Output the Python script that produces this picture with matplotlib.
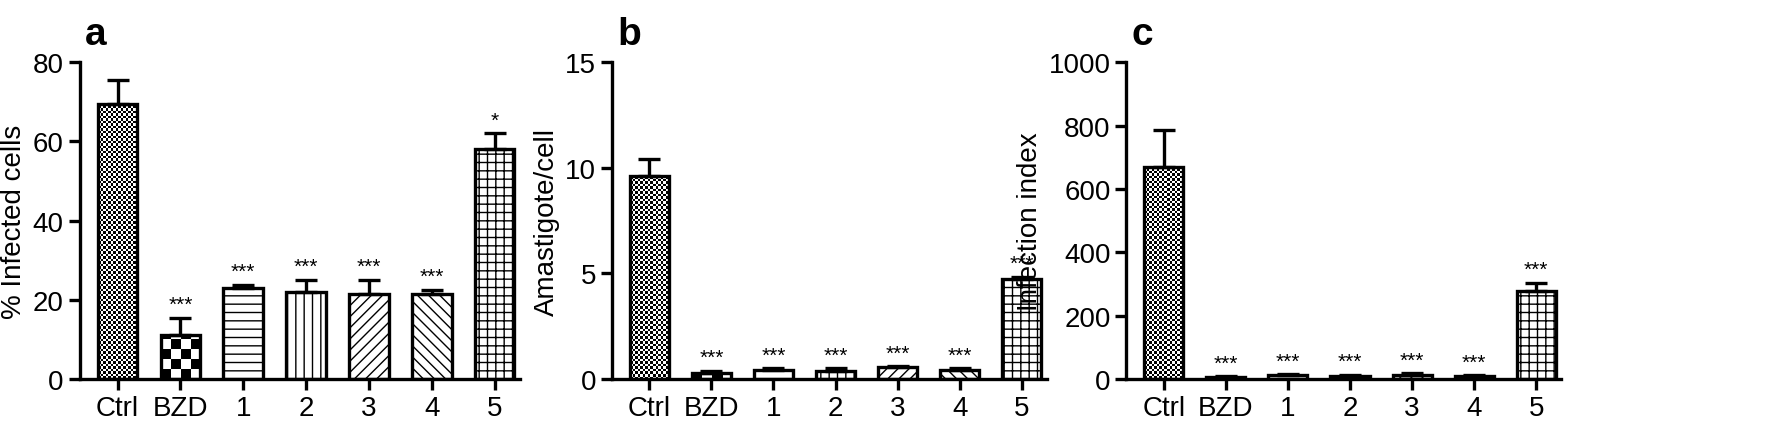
import numpy as np
import matplotlib.pyplot as plt

plt.rcParams['font.family'] = ['Liberation Sans', 'DejaVu Sans']
plt.rcParams['hatch.linewidth'] = 1.0

groups = ['Ctrl', 'BZD', '1', '2', '3', '4', '5']

pct_infected = [69.5, 11, 23, 22, 21.5, 21.5, 58]
pct_err = [6, 4.5, 0.8, 3, 3.5, 1, 4]
pct_stars = ['', '***', '***', '***', '***', '***', '*']

amast = [9.6, 0.3, 0.45, 0.4, 0.55, 0.45, 4.75]
amast_err = [0.8, 0.1, 0.05, 0.1, 0.05, 0.05, 0.1]
amast_stars = ['', '***', '***', '***', '***', '***', '***']

inf_index = [670, 5, 12, 10, 14, 10, 278]
inf_err = [115, 3, 3, 4, 4, 2, 25]
inf_stars = ['', '***', '***', '***', '***', '***', '***']

hatches = [None, None, '--', '||', '///', '\\\\\\', '++']

fig = plt.figure(figsize=(17.74, 4.27), dpi=100)

panels = [
    ('a', [0.045, 0.11, 0.248, 0.742], pct_infected, pct_err, pct_stars, 80, 20, '% Infected cells'),
    ('b', [0.345, 0.11, 0.245, 0.742], amast, amast_err, amast_stars, 15, 5, 'Amastigote/cell'),
    ('c', [0.635, 0.11, 0.245, 0.742], inf_index, inf_err, inf_stars, 1000, 200, 'Infection index'),
]


def checker(bar, ax, cell_px):
    # draw a checkerboard clipped to the bar
    x0, y0 = bar.get_x(), bar.get_y()
    x1, y1 = x0 + bar.get_width(), y0 + bar.get_height()
    p0 = ax.transData.transform((x0, y0))
    p1 = ax.transData.transform((x1, y1))
    nx = max(1, int(np.ceil((p1[0] - p0[0]) / cell_px)))
    ny = max(1, int(np.ceil((p1[1] - p0[1]) / cell_px)))
    img = (np.indices((ny, nx)).sum(axis=0) % 2).astype(float)
    im = ax.imshow(img, cmap='gray', extent=(x0, x0 + nx * cell_px * (x1 - x0) / (p1[0] - p0[0]),
                                            y0, y0 + ny * cell_px * (y1 - y0) / (p1[1] - p0[1])),
                   origin='lower', interpolation='nearest', aspect='auto', zorder=1)
    im.set_clip_path(bar)


for letter, pos, vals, errs, stars, ymax, ystep, ylabel in panels:
    ax = fig.add_axes(pos)
    x = np.arange(len(groups))
    ax.set_xlim(-0.6, 6.4)
    ax.set_ylim(0, ymax)
    bars = ax.bar(x, vals, width=0.63, color='white', edgecolor='black', linewidth=2.4, zorder=2)
    for b, h in zip(bars, hatches):
        if h:
            b.set_hatch(h)
    for b in bars[:2]:
        b.set_facecolor('none')
    checker(bars[0], ax, 2.5)
    checker(bars[1], ax, 10)
    ax.errorbar(x, vals, yerr=[np.zeros(len(errs)), errs], fmt='none', ecolor='black',
                elinewidth=2.4, capsize=8, capthick=2.4, zorder=3)
    for xi, v, e, s in zip(x, vals, errs, stars):
        if s:
            ax.text(xi, v + e + ymax * 0.012, s, ha='center', va='bottom', fontsize=15)
    ax.spines['top'].set_visible(False)
    ax.spines['right'].set_visible(False)
    for sp in ['left', 'bottom']:
        ax.spines[sp].set_linewidth(2.4)
    ax.spines['left'].set_bounds(0, ymax)
    ax.set_yticks(np.arange(0, ymax + 1e-9, ystep))
    ax.set_xticks(x)
    ax.set_xticklabels(groups)
    ax.tick_params(width=2.4, length=8, labelsize=20)
    ax.set_ylabel(ylabel, fontsize=20, labelpad=4)
    fig.text(pos[0] + 0.003, 0.895, letter, fontsize=28, fontweight='bold', va='baseline')

fig.savefig('out.png', dpi=100)
